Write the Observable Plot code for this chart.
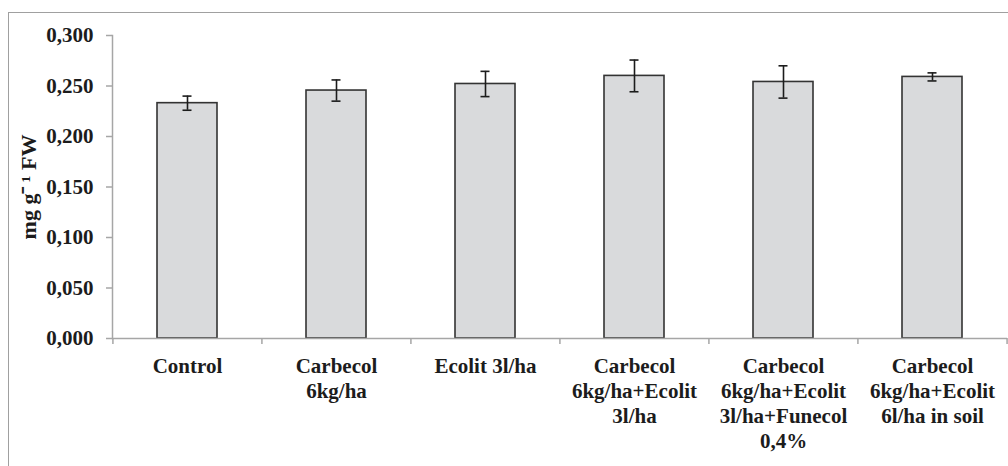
<!DOCTYPE html>
<html><head><meta charset="utf-8">
<script src="https://cdn.jsdelivr.net/npm/d3@7"></script>
<script src="https://cdn.jsdelivr.net/npm/@observablehq/plot@0.6"></script>
<style>
body{margin:0;background:#fff;}
#wrap{position:relative;width:1008px;height:466px;overflow:hidden;background:#fff;}
#border{position:absolute;left:8px;top:12px;width:1100px;height:600px;border-top:1.5px solid #a0a0a0;border-left:1.5px solid #a0a0a0;}
#chart{position:absolute;left:0;top:0;}
</style></head><body>
<div id="wrap"><div id="border"></div><div id="chart"></div></div>
<script>
const categories = [
  "Control",
  "Carbecol\n6kg/ha",
  "Ecolit 3l/ha",
  "Carbecol\n6kg/ha+Ecolit\n3l/ha",
  "Carbecol\n6kg/ha+Ecolit\n3l/ha+Funecol\n0,4%",
  "Carbecol\n6kg/ha+Ecolit\n6l/ha in soil"
];
const means  = [0.233, 0.2455, 0.252, 0.260, 0.254, 0.259];
const errors = [0.007, 0.0105, 0.0125, 0.0157, 0.016, 0.004];
const yTicks = [0, 0.05, 0.10, 0.15, 0.20, 0.25, 0.30];
const yLabel = "mg g\u207B\u2009\u00B9 FW";

const data = categories.map((c, i) => ({cat: c, mean: means[i], lo: means[i] - errors[i], hi: means[i] + errors[i]}));

const W = 1008, H = 466, ML = 112, MR = 1, MT = 35, MB = 128;
const step = (W - ML - MR) / categories.length;
const axisGray = "#a6a6a6";
const ink = "#1c1c1c";
const font = "'Liberation Serif', 'Times New Roman', serif";

const chart = Plot.plot({
  width: W, height: H,
  marginLeft: ML, marginRight: MR, marginTop: MT, marginBottom: MB,
  style: {fontFamily: font, fontSize: "21px", fontWeight: "bold", color: ink, background: "transparent"},
  x: {domain: categories, paddingInner: 0.6, paddingOuter: 0.3},
  y: {domain: [0, 0.3]},
  marks: [
    Plot.barY(data, {x: "cat", y: "mean", fill: "#d9dadc", stroke: "#333", strokeWidth: 1.6}),
    Plot.ruleY([0], {stroke: axisGray, strokeWidth: 1.5}),
    Plot.frame({anchor: "left", stroke: axisGray, strokeWidth: 1.5}),
    Plot.ruleX(data, {x: "cat", y1: "lo", y2: "hi", stroke: ink, strokeWidth: 1.6}),
    Plot.tickY(data, {x: "cat", y: "lo", stroke: ink, strokeWidth: 1.6, insetLeft: 25.5, insetRight: 25.5}),
    Plot.tickY(data, {x: "cat", y: "hi", stroke: ink, strokeWidth: 1.6, insetLeft: 25.5, insetRight: 25.5}),
    Plot.axisY({ticks: yTicks, tickSize: 6, tickPadding: 13, stroke: axisGray, strokeWidth: 1.5,
      tickFormat: d => d.toFixed(3).replace(".", ","), label: null, fill: ink}),
    Plot.axisX({ticks: categories, tickSize: 6, dx: -step / 2, tickFormat: () => "", label: null, stroke: axisGray, strokeWidth: 1.5}),
    Plot.axisX({ticks: [categories[categories.length - 1]], tickSize: 6, dx: step / 2, tickFormat: () => "", label: null, stroke: axisGray, strokeWidth: 1.5}),
    Plot.axisX({tickSize: 0, tickPadding: 17, lineHeight: 25 / 21, label: null, fill: ink}),
    Plot.text([yLabel], {frameAnchor: "left", rotate: -90, dx: -84, textAnchor: "middle", lineAnchor: "middle", fill: ink, fontSize: 22, fontWeight: "bold"})
  ]
});
document.getElementById("chart").appendChild(chart);
</script>
</body></html>
